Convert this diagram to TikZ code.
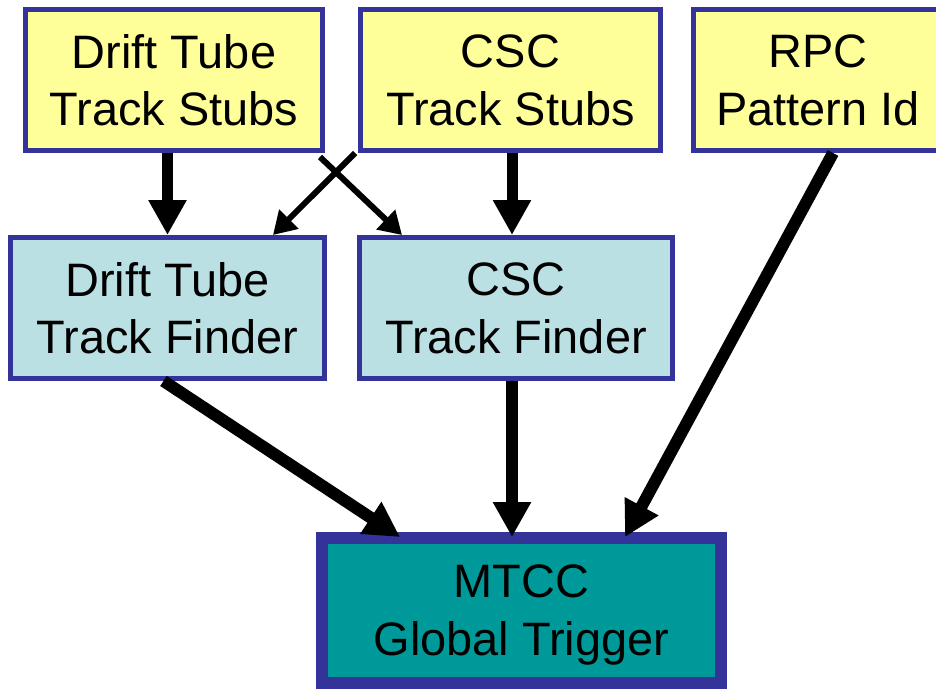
\documentclass[tikz,border=0pt]{standalone}
\usepackage{fontspec}
\setmainfont{Liberation Sans}
\usetikzlibrary{arrows.meta}
\definecolor{boxblue}{HTML}{333399}
\definecolor{stubyellow}{HTML}{FFFF99}
\definecolor{finderblue}{HTML}{BBE0E3}
\definecolor{triggerteal}{HTML}{009999}

\begin{document}
\begin{tikzpicture}[x=0.02cm, y=-0.02cm,
	box/.style={draw=boxblue, line width=0.1cm, align=center, inner sep=0pt, text depth=0pt, font=\fontsize{26.7}{33}\selectfont, minimum height=2.82cm},
	stub/.style={box, fill=stubyellow},
	finder/.style={box, fill=finderblue},
	trigger/.style={box, fill=triggerteal, line width=0.24cm, minimum height=2.9cm},
	bigarrow/.style={line width=0.24cm, -{Triangle[length=0.7cm, width=0.72cm]}},
	midarrow/.style={line width=0.22cm, -{Triangle[length=0.7cm, width=0.72cm]}},
	crossarrow/.style={line width=0.12cm, -{Triangle[length=0.45cm, width=0.52cm]}}]
	\useasboundingbox (0, 0) rectangle (936, 689);
	
	\node[stub, minimum width=5.94cm] (dts) at (174, 80) {Drift Tube\\Track Stubs};
	\node[stub, minimum width=6cm] (cscs) at (510.5, 80) {CSC\\Track Stubs};
	\node[stub, minimum width=4.98cm] (rpc) at (818, 80) {RPC\\Pattern Id};
	\node[finder, minimum width=6.28cm] (dttf) at (167.5, 308) {Drift Tube\\Track Finder};
	\node[finder, minimum width=6.26cm] (csctf) at (516, 308) {CSC\\Track Finder};
	\node[trigger, minimum width=7.98cm] (mtcc) at (521.5, 610.5) {MTCC\\Global Trigger};
	
	\draw[midarrow] (dts.south -| dttf.north) -- (dttf.north);
	\draw[midarrow] ([xshift=-0.08cm]csctf.north |- cscs.south) -- ([xshift=-0.08cm]csctf.north);
	
	% the two stub streams cross over
	\draw[crossarrow] ([xshift=-0.06cm]cscs.south west) -- ([xshift=-1.08cm]dttf.north east);
	\draw[crossarrow] ([shift={(-0.1cm,-0.08cm)}]dts.south east) -- ([xshift=0.9cm]csctf.north west);
	
	\draw[bigarrow] ([xshift=-0.08cm]dttf.south) -- ([shift={(1.68cm,-0.1cm)}]mtcc.north west);
	\draw[bigarrow] ([xshift=-0.08cm]csctf.south) -- ([shift={(-0.08cm,-0.1cm)}]csctf.south |- mtcc.north);
	\draw[bigarrow] ([xshift=0.3cm]rpc.south) -- ([shift={(-2.04cm,-0.1cm)}]mtcc.north east);
\end{tikzpicture}
\end{document}
